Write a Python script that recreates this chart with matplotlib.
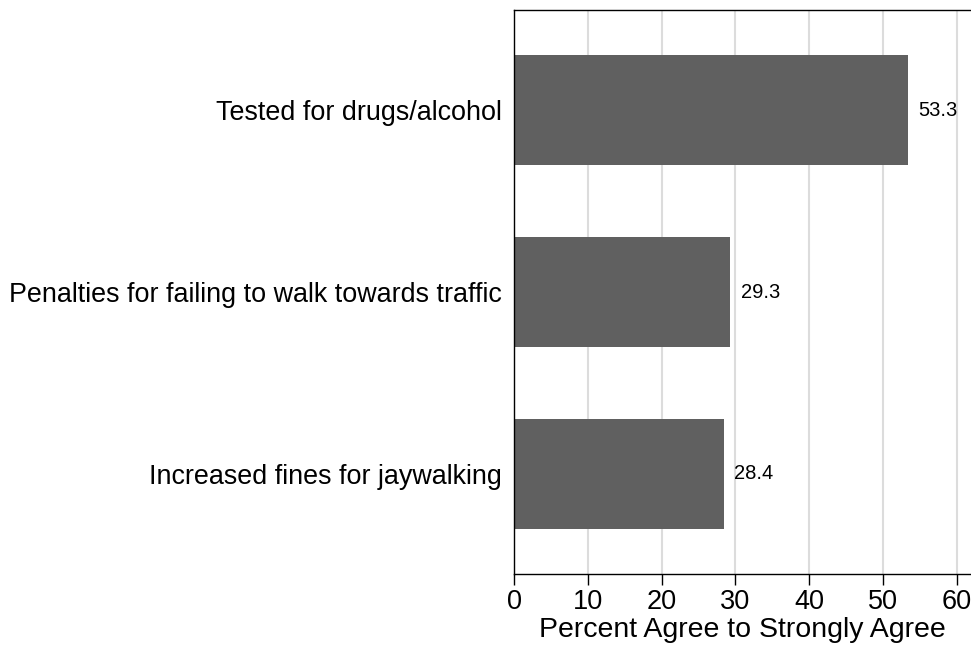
import matplotlib.pyplot as plt

plt.rcParams['font.family'] = ['Liberation Sans', 'DejaVu Sans']

categories = ["Tested for drugs/alcohol",
              "Penalties for failing to walk towards traffic",
              "Increased fines for jaywalking"]
values = [53.3, 29.3, 28.4]
x_ticks = [0, 10, 20, 30, 40, 50, 60]

fig = plt.figure(figsize=(9.71, 6.49), dpi=100)
ax = fig.add_axes([514 / 971, 1 - 574 / 649, 1 - 514 / 971, 564 / 649])

pos = list(range(len(categories)))
ax.barh(pos, values, height=0.6, color="#606060", zorder=2)
for p, v in zip(pos, values):
    ax.text(v + 1.4, p, f"{v:.1f}", va="center", ha="left", fontsize=14.5)

ax.set_xlim(0, 61.9)
ax.set_ylim(2.55, -0.55)
ax.set_xticks(x_ticks)
ax.set_yticks(pos)
ax.set_yticklabels(categories, fontsize=19.4)
ax.tick_params(axis="y", length=0, pad=9)
ax.tick_params(axis="x", labelsize=19.5, length=8, width=1, pad=3)
ax.set_xlabel("Percent Agree to Strongly Agree", fontsize=20.5, labelpad=1)

ax.grid(axis="x", color="#dcdcdc", linewidth=1.5, zorder=0)
ax.set_axisbelow(True)
ax.spines["right"].set_visible(False)
for s in ["left", "top", "bottom"]:
    ax.spines[s].set_linewidth(1)
    ax.spines[s].set_color("black")

fig.savefig("out.png", dpi=100)
